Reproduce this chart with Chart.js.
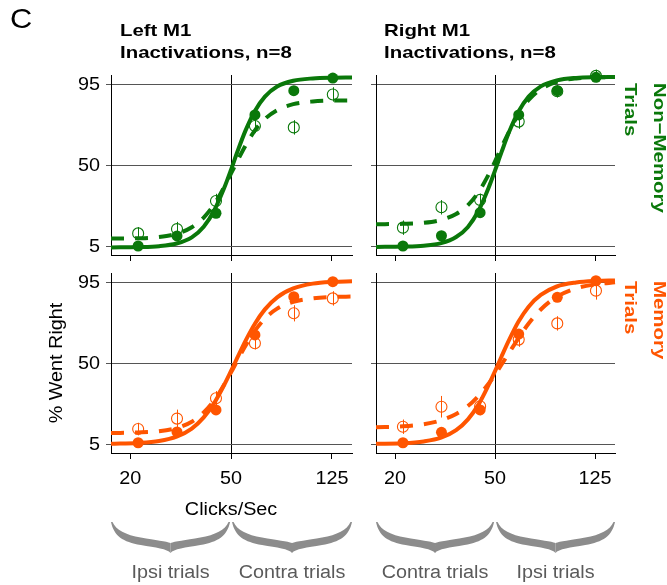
<!DOCTYPE html>
<html>
<head>
<meta charset="utf-8">
<script src="https://cdn.jsdelivr.net/npm/chart.js@4.4.1/dist/chart.umd.min.js"></script>
<style>
  html, body { margin: 0; padding: 0; background: #fff; }
  #fig { position: relative; width: 667px; height: 585px; overflow: hidden; }
  #fig canvas { position: absolute; }
</style>
</head>
<body>
<div id="fig">
  <canvas id="tl" width="362" height="262" style="left:0;top:0"></canvas>
  <canvas id="tr" width="305" height="262" style="left:362px;top:0"></canvas>
  <canvas id="bl" width="362" height="323" style="left:0;top:262px"></canvas>
  <canvas id="br" width="305" height="323" style="left:362px;top:262px"></canvas>
</div>
<script>
// axes
const X_TICKS = [20, 50, 125];
const Y_TICKS = [5, 50, 95];
const X_MIN = 16.8, X_MAX = 150;

// click rates of the data points, and x samples of the fitted curves
const X_PTS = [21.5, 30.6, 43.6, 62.1, 88.4, 126];
const CURVE_X = [16.8, 21.5, 26, 30.5, 35, 39, 43, 47, 50, 53, 57, 62, 68, 76, 88, 105, 127, 150];

// Left M1, non-memory trials
const TL_FILLED = [5.0, 10.6, 23.2, 77.8, 91.3, 98.3];
const TL_OPEN = [12.0, 14.4, 30.0, 71.7, 70.9, 89.2];
const TL_ERR = [3.5, 4, 4, 4, 4, 4];
const TL_SOLID = [4.2, 4.4, 4.9, 6.4, 9.8, 15.7, 25.0, 37.3, 47.4, 57.5, 69.1, 79.9, 88.0, 93.6, 96.8, 98.1, 98.5, 98.6];
const TL_DASH = [9.1, 9.3, 10.0, 11.8, 15.4, 20.8, 28.4, 37.9, 45.3, 52.4, 60.8, 69.1, 75.6, 80.5, 83.8, 85.3, 85.8, 85.9];

// Right M1, non-memory trials
const TR_FILLED = [5.0, 10.7, 23.5, 77.8, 91.3, 98.7];
const TR_OPEN = [15.2, 26.5, 30.6, 74.1, 91.0, 99.5];
const TR_ERR = [4, 4, 3.5, 4, 3.5, 3.5];
const TR_SOLID = [4.5, 4.7, 5.2, 6.6, 10.0, 15.6, 24.7, 37.0, 47.0, 57.0, 68.7, 79.7, 88.0, 93.7, 97.0, 98.4, 98.8, 98.9];
const TR_DASH = [17.1, 17.3, 17.9, 19.5, 22.8, 27.7, 35.0, 44.4, 52.0, 59.7, 68.9, 78.3, 86.1, 92.1, 96.2, 98.1, 98.7, 98.9];

// Left M1, memory trials
const BL_FILLED = [5.7, 11.7, 23.9, 65.6, 86.8, 95.2];
const BL_OPEN = [13.3, 19.1, 30.4, 61.0, 77.6, 85.9];
const BL_ERR = [3.5, 5, 4, 3.5, 4.5, 4];
const BL_SOLID = [5.1, 5.6, 6.7, 9.1, 13.6, 19.8, 28.0, 37.9, 45.6, 53.1, 62.3, 71.7, 79.8, 86.5, 91.4, 94.1, 95.1, 95.4];
const BL_DASH = [11.1, 11.4, 12.1, 13.9, 17.4, 22.5, 29.4, 38.1, 44.8, 51.5, 59.6, 67.8, 74.7, 80.2, 84.0, 85.9, 86.7, 86.9];

// Right M1, memory trials
const BR_FILLED = [5.7, 11.5, 23.9, 66.1, 86.5, 95.7];
const BR_OPEN = [14.6, 25.7, 26.0, 63.0, 72.0, 90.2];
const BR_ERR = [4, 6, 5, 4, 4, 5];
const BR_SOLID = [5.1, 5.4, 6.4, 8.5, 12.7, 18.7, 27.0, 37.4, 45.5, 53.5, 63.1, 73.0, 81.3, 87.8, 92.5, 94.7, 95.6, 95.9];
const BR_DASH = [14.3, 14.8, 16.0, 18.2, 21.7, 26.1, 31.8, 38.3, 43.5, 49.0, 55.9, 63.9, 71.9, 79.7, 86.8, 91.5, 93.8, 94.8];

const GREEN = '#0a780a';
const ORANGE = '#ff5500';
const FAM = '"Liberation Sans", Arial, Helvetica, sans-serif';
const REG = '18px ' + FAM;
const BOLD = 'bold 17px ' + FAM;

// text is drawn a bit wider than the font, like in the figure
function txt(ctx, s, x, y, o) {
    o = o || {};
    ctx.save();
    ctx.translate(x, y);
    if (o.rot) ctx.rotate(o.rot);
    ctx.scale(o.sx || 1.1, 1);
    ctx.font = o.font || REG;
    ctx.fillStyle = o.color || '#000';
    ctx.textAlign = o.align || 'left';
    ctx.textBaseline = o.base || 'alphabetic';
    ctx.fillText(s, 0, 0);
    ctx.restore();
}

// one half of a downward curly brace, from the end xa to the tip xm (dir = +1 or -1)
function halfBrace(ctx, xa, xm, yTop, dir) {
    const w = Math.abs(xm - xa);
    const X = f => xa + dir * f * w;
    ctx.beginPath();
    ctx.moveTo(xa, yTop);
    ctx.bezierCurveTo(X(0.05), yTop + 14, X(0.2), yTop + 20, X(0.5), yTop + 23);
    ctx.bezierCurveTo(X(0.75), yTop + 25.5, X(0.95), yTop + 27, xm, yTop + 31);
    ctx.lineTo(xm, yTop + 21);
    ctx.bezierCurveTo(X(0.93), yTop + 19.5, X(0.75), yTop + 18, X(0.5), yTop + 15.5);
    ctx.bezierCurveTo(X(0.25), yTop + 13, X(0.08), yTop + 8, xa + dir * 1.5, yTop);
    ctx.closePath();
    ctx.fill();
}

function brace(ctx, xa, xb, yTop) {
    const xm = (xa + xb) / 2;
    ctx.save();
    ctx.fillStyle = '#8c8c8c';
    halfBrace(ctx, xa, xm, yTop, 1);
    halfBrace(ctx, xb, xm, yTop, -1);
    ctx.restore();
}

function panelDecor(p) {
    return {
        id: 'decor_' + p.id,
        afterDatasetsDraw(chart) {
            // error bars of the inactivation points
            const { ctx, scales: { x, y } } = chart;
            ctx.save();
            ctx.strokeStyle = p.color;
            ctx.lineWidth = 1;
            X_PTS.forEach((xv, i) => {
                const px = Math.round(x.getPixelForValue(xv)) + 0.5;
                ctx.beginPath();
                ctx.moveTo(px, y.getPixelForValue(p.open[i] - p.err[i]));
                ctx.lineTo(px, y.getPixelForValue(p.open[i] + p.err[i]));
                ctx.stroke();
            });
            ctx.restore();
        },
        afterDraw(chart) {
            const { ctx, chartArea: a, scales: { x, y } } = chart;

            if (p.yLabels) {
                Y_TICKS.forEach(v => txt(ctx, String(v), a.left - 11, y.getPixelForValue(v) + 6, { align: 'right' }));
            }
            if (p.xLabels) {
                X_TICKS.forEach(v => txt(ctx, String(v), x.getPixelForValue(v), a.bottom + 31, { align: 'center' }));
            }
            if (p.corner) {
                txt(ctx, p.corner, 10, 28, { font: '28px ' + FAM });
            }
            if (p.title) {
                txt(ctx, p.title[0], a.left + p.titleDx, a.top - 39, { font: BOLD, sx: 1.2 });
                txt(ctx, p.title[1], a.left + p.titleDx, a.top - 17, { font: BOLD, sx: 1.2 });
            }
            if (p.side) {
                const y0 = y.getPixelForValue(95) - 1;
                txt(ctx, p.side[0], a.right + 39, y0, { font: BOLD, sx: 1.2, rot: Math.PI / 2, color: p.color });
                txt(ctx, p.side[1], a.right + 10, y0, { font: BOLD, sx: 1.2, rot: Math.PI / 2, color: p.color });
            }
            if (p.yTitle) {
                txt(ctx, p.yTitle, a.left - 54, (a.top + a.bottom) / 2, { align: 'center', base: 'middle', rot: -Math.PI / 2 });
            }
            if (p.xTitle) {
                txt(ctx, p.xTitle, x.getPixelForValue(50), a.bottom + 62, { align: 'center' });
            }
            if (p.braces) {
                const xs = [x.getPixelForValue(X_MIN), x.getPixelForValue(50), x.getPixelForValue(X_MAX)];
                for (let k = 0; k < 2; k++) {
                    const xa = xs[k] + (k ? 1 : 0), xb = xs[k + 1] - (k ? 0 : 1);
                    brace(ctx, xa, xb, a.bottom + 69);
                    txt(ctx, p.braces[k], (xa + xb) / 2, a.bottom + 125, { align: 'center', color: '#5a5a5a' });
                }
            }
        }
    };
}

function makePanel(p) {
    const pts = (xs, ys) => xs.map((x, i) => ({ x: x, y: ys[i] }));
    return new Chart(document.getElementById(p.id), {
        type: 'line',
        data: {
            datasets: [
                { label: 'Control', data: pts(X_PTS, p.filled), showLine: false, pointRadius: 5.5,
                  pointBackgroundColor: p.color, pointBorderWidth: 0, order: 0, clip: false },
                { label: 'Inactivation', data: pts(X_PTS, p.open), showLine: false, pointRadius: 5.5,
                  pointBackgroundColor: 'rgba(0,0,0,0)', pointBorderColor: p.color, pointBorderWidth: 1.1, order: 1, clip: false },
                { label: 'Control fit', data: pts(CURVE_X, p.solid), borderColor: p.color, borderWidth: 4,
                  pointRadius: 0, cubicInterpolationMode: 'monotone', order: 2, clip: false },
                { label: 'Inactivation fit', data: pts(CURVE_X, p.dash), borderColor: p.color, borderWidth: 4,
                  borderDash: [13, 11], pointRadius: 0, cubicInterpolationMode: 'monotone', order: 3, clip: false }
            ]
        },
        options: {
            responsive: false,
            animation: false,
            devicePixelRatio: 1,
            layout: { padding: p.pad, autoPadding: false },
            plugins: { legend: { display: false }, tooltip: { enabled: false } },
            scales: {
                x: {
                    type: 'logarithmic', min: X_MIN, max: X_MAX,
                    afterBuildTicks: s => { s.ticks = X_TICKS.map(v => ({ value: v })); },
                    afterFit: s => { s.height = 0; },
                    ticks: { display: false },
                    grid: {
                        color: c => (c.tick && c.tick.value === 50) ? '#000' : 'rgba(0,0,0,0)',
                        tickColor: '#000', tickLength: 6, lineWidth: 1
                    },
                    border: { display: true, color: '#000', width: 1 }
                },
                y: {
                    type: 'linear', min: 0, max: 100,
                    afterBuildTicks: s => { s.ticks = Y_TICKS.map(v => ({ value: v })); },
                    afterFit: s => { s.width = 0; },
                    ticks: { display: false },
                    grid: { color: '#555', tickColor: '#555', tickLength: 5, lineWidth: 1 },
                    border: { display: true, color: '#000', width: 1 }
                }
            }
        },
        plugins: [panelDecor(p)]
    });
}

const PANELS = [
    { id: 'tl', color: GREEN, filled: TL_FILLED, open: TL_OPEN, err: TL_ERR, solid: TL_SOLID, dash: TL_DASH,
      pad: { left: 111, right: 10, top: 75, bottom: 7 }, yLabels: true, corner: 'C',
      title: ['Left M1', 'Inactivations, n=8'], titleDx: 9 },
    { id: 'tr', color: GREEN, filled: TR_FILLED, open: TR_OPEN, err: TR_ERR, solid: TR_SOLID, dash: TR_DASH,
      pad: { left: 14, right: 52, top: 75, bottom: 7 },
      title: ['Right M1', 'Inactivations, n=8'], titleDx: 8, side: ['Non\u2212Memory', 'Trials'] },
    { id: 'bl', color: ORANGE, filled: BL_FILLED, open: BL_OPEN, err: BL_ERR, solid: BL_SOLID, dash: BL_DASH,
      pad: { left: 111, right: 10, top: 11, bottom: 132 }, yLabels: true, xLabels: true,
      yTitle: '% Went Right', xTitle: 'Clicks/Sec', braces: ['Ipsi trials', 'Contra trials'] },
    { id: 'br', color: ORANGE, filled: BR_FILLED, open: BR_OPEN, err: BR_ERR, solid: BR_SOLID, dash: BR_DASH,
      pad: { left: 14, right: 52, top: 11, bottom: 132 }, xLabels: true,
      side: ['Memory', 'Trials'], braces: ['Contra trials', 'Ipsi trials'] }
];

PANELS.forEach(makePanel);
</script>
</body>
</html>
